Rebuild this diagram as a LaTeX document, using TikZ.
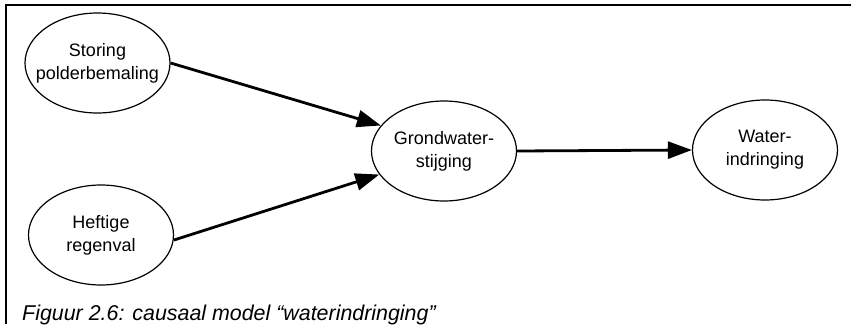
\documentclass[tikz,border=0pt]{standalone}
\usepackage{fontspec}
\setmainfont{Liberation Sans}
\usetikzlibrary{shapes.geometric,arrows.meta}

\tikzset{
  cause/.style={draw, ellipse, line width=1.2pt, minimum width=145pt, minimum height=100pt, inner sep=0pt},
  causetext/.style={align=center, inner sep=0pt, font=\fontsize{18}{23}\selectfont},
  link/.style={line width=2.8pt, -{Triangle[length=24pt, width=17pt]}},
  frameline/.style={line width=2.3pt}
}

\begin{document}
\begin{tikzpicture}[x=1pt, y=-1pt]
  \useasboundingbox (0,0) rectangle (851,324);

  % open frame: top and left edges
  \coordinate (fr) at (851,5.2);
  \coordinate (ftl) at (6,5.2);
  \coordinate (fbl) at (6,324);
  \draw[frameline] (fr) -- (ftl) -- (fbl);

  % causes and effects
  \node[cause] (storing) at (97.5,63) {};
  \node[causetext] (storingt) at (storing) {Storing\\polderbemaling};

  \node[cause] (regen) at (101,235) {};
  \node[causetext] (regent) at (regen) {Heftige\\regenval};

  \node[cause] (grond) at (444,151) {};
  \node[causetext] (grondt) at (grond) {Grondwater-\\stijging};

  \node[cause] (water) at (765,150) {};
  \node[causetext] (watert) at (water) {Water-\\indringing};

  % causal links
  \draw[link] (storing.east) -- (grond.158);
  \draw[link] (regen.-4) -- (grond.200);
  \draw[link] (grond.east) -- (water.west);

  % caption
  \node[anchor=base west, inner sep=0pt, font=\fontsize{21.4}{25}\selectfont\itshape] (caption) at (22,320)
    {Figuur 2.6: causaal model “waterindringing”};
\end{tikzpicture}
\end{document}
